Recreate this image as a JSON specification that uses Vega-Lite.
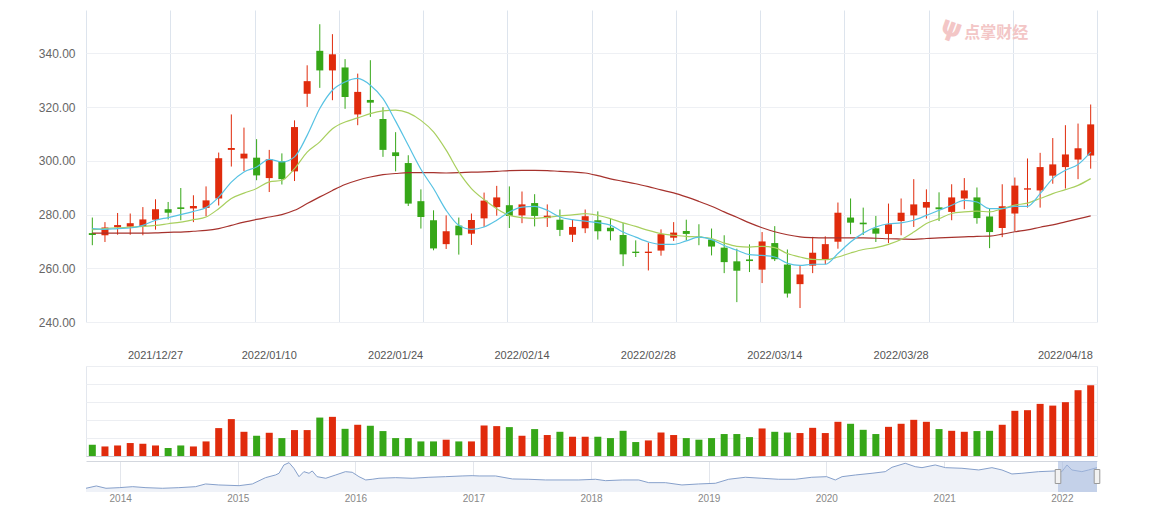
{
  "$schema": "https://vega.github.io/schema/vega-lite/v6.json",
  "padding": {"left": 38, "top": 10, "right": 10, "bottom": 4},
  "bounds": "flush",
  "spacing": 44,
  "config": {
    "font": "Liberation Sans",
    "view": {"stroke": null}
  },
  "datasets": {
    "k": [
      {"date":"2021/12/20","open":273.1,"high":278.9,"low":268.6,"close":272.4,"vol":12.5,"ma5":274.8,"ma10":274.4,"ma30":273.1},
      {"date":"2021/12/21","open":272.3,"high":277.2,"low":269.8,"close":275.2,"vol":10.6,"ma5":274.5,"ma10":274.8,"ma30":273.1},
      {"date":"2021/12/22","open":275.3,"high":280.6,"low":272.5,"close":276.1,"vol":11.7,"ma5":274.8,"ma10":275.1,"ma30":273.1},
      {"date":"2021/12/23","open":275.5,"high":280.4,"low":272.5,"close":276.8,"vol":14.4,"ma5":275.0,"ma10":275.3,"ma30":273.1},
      {"date":"2021/12/24","open":275.7,"high":282.8,"low":272.3,"close":278.2,"vol":13.6,"ma5":276.0,"ma10":275.6,"ma30":273.1},
      {"date":"2021/12/27","open":278.1,"high":285.7,"low":274.4,"close":282.0,"vol":11.7,"ma5":277.9,"ma10":276.0,"ma30":273.2},
      {"date":"2021/12/28","open":282.0,"high":284.7,"low":278.2,"close":280.7,"vol":8.9,"ma5":278.9,"ma10":276.6,"ma30":273.4},
      {"date":"2021/12/29","open":282.7,"high":289.9,"low":277.9,"close":282.1,"vol":11.7,"ma5":280.0,"ma10":277.2,"ma30":273.5},
      {"date":"2021/12/30","open":282.3,"high":287.2,"low":277.2,"close":283.2,"vol":10.6,"ma5":281.2,"ma10":278.1,"ma30":273.8},
      {"date":"2021/12/31","open":282.5,"high":290.5,"low":279.4,"close":285.3,"vol":16.2,"ma5":282.6,"ma10":279.1,"ma30":274.1},
      {"date":"2022/01/04","open":286.0,"high":303.1,"low":283.4,"close":301.0,"vol":31.0,"ma5":286.5,"ma10":282.2,"ma30":274.8},
      {"date":"2022/01/05","open":304.1,"high":317.3,"low":297.9,"close":304.8,"vol":41.0,"ma5":292.1,"ma10":286.0,"ma30":276.0},
      {"date":"2022/01/06","open":300.9,"high":312.4,"low":296.2,"close":302.7,"vol":26.9,"ma5":295.9,"ma10":288.0,"ma30":277.2},
      {"date":"2022/01/07","open":301.2,"high":308.1,"low":292.8,"close":294.6,"vol":22.5,"ma5":297.7,"ma10":289.7,"ma30":278.2},
      {"date":"2022/01/10","open":293.6,"high":304.1,"low":288.4,"close":300.6,"vol":25.8,"ma5":300.6,"ma10":292.2,"ma30":279.1},
      {"date":"2022/01/11","open":299.9,"high":302.8,"low":291.2,"close":293.2,"vol":19.9,"ma5":299.6,"ma10":292.8,"ma30":280.0},
      {"date":"2022/01/12","open":296.1,"high":315.1,"low":292.5,"close":312.6,"vol":28.8,"ma5":301.5,"ma10":297.1,"ma30":281.6},
      {"date":"2022/01/13","open":325.0,"high":335.6,"low":320.1,"close":329.7,"vol":28.8,"ma5":309.5,"ma10":303.3,"ma30":284.1},
      {"date":"2022/01/14","open":341.0,"high":350.9,"low":327.2,"close":333.7,"vol":42.7,"ma5":319.5,"ma10":307.1,"ma30":286.6},
      {"date":"2022/01/17","open":333.7,"high":347.2,"low":322.6,"close":339.7,"vol":43.5,"ma5":326.3,"ma10":312.0,"ma30":289.0},
      {"date":"2022/01/18","open":334.8,"high":337.9,"low":319.4,"close":323.8,"vol":30.2,"ma5":329.4,"ma10":314.5,"ma30":291.2},
      {"date":"2022/01/19","open":317.3,"high":332.5,"low":313.3,"close":325.7,"vol":34.7,"ma5":330.7,"ma10":316.0,"ma30":292.8},
      {"date":"2022/01/20","open":322.7,"high":337.5,"low":316.4,"close":321.7,"vol":33.6,"ma5":328.2,"ma10":317.6,"ma30":294.0},
      {"date":"2022/01/21","open":315.6,"high":320.0,"low":301.5,"close":304.1,"vol":27.7,"ma5":323.2,"ma10":318.6,"ma30":294.9},
      {"date":"2022/01/24","open":303.2,"high":310.7,"low":296.1,"close":301.8,"vol":19.9,"ma5":314.8,"ma10":318.9,"ma30":295.3},
      {"date":"2022/01/25","open":299.2,"high":302.1,"low":283.2,"close":284.1,"vol":19.9,"ma5":305.8,"ma10":317.9,"ma30":295.6},
      {"date":"2022/01/26","open":285.0,"high":289.4,"low":274.8,"close":279.1,"vol":16.2,"ma5":296.9,"ma10":315.1,"ma30":295.6},
      {"date":"2022/01/27","open":277.9,"high":281.6,"low":266.7,"close":267.4,"vol":16.2,"ma5":289.7,"ma10":310.8,"ma30":295.6},
      {"date":"2022/01/28","open":269.0,"high":279.7,"low":267.2,"close":273.8,"vol":18.1,"ma5":281.6,"ma10":304.0,"ma30":295.5},
      {"date":"2022/02/07","open":275.9,"high":278.9,"low":265.1,"close":272.3,"vol":16.2,"ma5":276.0,"ma10":295.9,"ma30":295.6},
      {"date":"2022/02/08","open":272.9,"high":280.4,"low":268.7,"close":278.0,"vol":16.2,"ma5":274.5,"ma10":289.7,"ma30":295.8},
      {"date":"2022/02/09","open":278.6,"high":288.2,"low":275.4,"close":285.2,"vol":33.9,"ma5":275.4,"ma10":285.6,"ma30":295.9},
      {"date":"2022/02/10","open":282.8,"high":290.7,"low":279.6,"close":286.4,"vol":33.2,"ma5":277.9,"ma10":282.2,"ma30":296.1},
      {"date":"2022/02/11","open":283.5,"high":290.5,"low":275.0,"close":279.5,"vol":32.1,"ma5":281.0,"ma10":279.7,"ma30":296.4},
      {"date":"2022/02/14","open":279.7,"high":288.6,"low":276.8,"close":283.8,"vol":22.5,"ma5":282.8,"ma10":278.9,"ma30":296.5},
      {"date":"2022/02/15","open":284.3,"high":287.6,"low":275.6,"close":279.5,"vol":29.9,"ma5":283.1,"ma10":278.6,"ma30":296.5},
      {"date":"2022/02/16","open":278.7,"high":283.8,"low":275.4,"close":279.6,"vol":23.3,"ma5":281.6,"ma10":279.0,"ma30":296.4},
      {"date":"2022/02/17","open":278.1,"high":281.9,"low":272.0,"close":274.3,"vol":26.9,"ma5":279.1,"ma10":279.5,"ma30":296.1},
      {"date":"2022/02/18","open":272.5,"high":278.1,"low":269.8,"close":275.4,"vol":21.4,"ma5":278.1,"ma10":279.9,"ma30":295.9},
      {"date":"2022/02/21","open":274.9,"high":281.9,"low":273.1,"close":279.4,"vol":21.4,"ma5":277.6,"ma10":280.4,"ma30":295.5},
      {"date":"2022/02/22","open":277.9,"high":281.2,"low":270.7,"close":273.8,"vol":21.4,"ma5":277.0,"ma10":279.7,"ma30":294.5},
      {"date":"2022/02/23","open":275.1,"high":278.7,"low":270.4,"close":273.8,"vol":19.9,"ma5":276.1,"ma10":278.5,"ma30":293.3},
      {"date":"2022/02/24","open":272.4,"high":276.9,"low":260.8,"close":265.2,"vol":28.0,"ma5":273.5,"ma10":276.9,"ma30":292.4},
      {"date":"2022/02/25","open":266.2,"high":270.4,"low":264.2,"close":265.7,"vol":15.5,"ma5":271.6,"ma10":275.6,"ma30":291.5},
      {"date":"2022/02/28","open":265.7,"high":269.6,"low":259.2,"close":266.2,"vol":17.3,"ma5":269.8,"ma10":274.1,"ma30":290.4},
      {"date":"2022/03/01","open":266.6,"high":274.5,"low":264.7,"close":272.7,"vol":26.1,"ma5":268.9,"ma10":272.9,"ma30":289.2},
      {"date":"2022/03/02","open":271.4,"high":277.2,"low":270.2,"close":273.3,"vol":23.3,"ma5":268.9,"ma10":272.3,"ma30":288.1},
      {"date":"2022/03/03","open":273.9,"high":278.1,"low":270.4,"close":272.8,"vol":19.9,"ma5":270.2,"ma10":271.9,"ma30":286.6},
      {"date":"2022/03/04","open":271.8,"high":276.4,"low":268.6,"close":271.4,"vol":18.1,"ma5":271.6,"ma10":271.6,"ma30":284.9},
      {"date":"2022/03/07","open":270.7,"high":274.8,"low":264.8,"close":268.1,"vol":19.9,"ma5":270.7,"ma10":271.1,"ma30":283.1},
      {"date":"2022/03/08","open":267.7,"high":272.3,"low":258.2,"close":262.3,"vol":24.4,"ma5":268.5,"ma10":269.4,"ma30":281.0},
      {"date":"2022/03/09","open":262.6,"high":267.3,"low":247.4,"close":259.1,"vol":24.4,"ma5":266.7,"ma10":268.2,"ma30":279.0},
      {"date":"2022/03/10","open":263.3,"high":268.9,"low":258.6,"close":262.7,"vol":21.0,"ma5":265.1,"ma10":267.9,"ma30":276.9},
      {"date":"2022/03/11","open":259.5,"high":273.5,"low":254.5,"close":270.0,"vol":30.6,"ma5":264.8,"ma10":268.2,"ma30":275.1},
      {"date":"2022/03/14","open":269.4,"high":275.7,"low":262.7,"close":263.4,"vol":26.9,"ma5":264.2,"ma10":267.7,"ma30":273.6},
      {"date":"2022/03/15","open":261.4,"high":267.0,"low":249.1,"close":250.6,"vol":26.1,"ma5":261.9,"ma10":265.5,"ma30":272.5},
      {"date":"2022/03/16","open":254.1,"high":261.1,"low":245.2,"close":257.7,"vol":25.5,"ma5":261.1,"ma10":264.2,"ma30":271.7},
      {"date":"2022/03/17","open":261.0,"high":271.7,"low":258.2,"close":265.8,"vol":31.3,"ma5":261.5,"ma10":263.3,"ma30":271.4},
      {"date":"2022/03/18","open":263.3,"high":271.9,"low":261.5,"close":269.0,"vol":25.5,"ma5":261.5,"ma10":263.2,"ma30":271.3},
      {"date":"2022/03/21","open":269.9,"high":284.5,"low":267.3,"close":280.7,"vol":38.0,"ma5":265.5,"ma10":264.2,"ma30":271.3},
      {"date":"2022/03/22","open":278.9,"high":286.0,"low":272.7,"close":277.0,"vol":35.8,"ma5":269.8,"ma10":265.7,"ma30":271.3},
      {"date":"2022/03/23","open":277.0,"high":282.6,"low":272.4,"close":276.4,"vol":29.1,"ma5":273.1,"ma10":267.0,"ma30":271.3},
      {"date":"2022/03/24","open":274.9,"high":279.5,"low":269.8,"close":272.9,"vol":24.4,"ma5":275.4,"ma10":267.7,"ma30":271.2},
      {"date":"2022/03/25","open":272.8,"high":284.1,"low":269.4,"close":276.4,"vol":32.4,"ma5":276.6,"ma10":268.9,"ma30":271.0},
      {"date":"2022/03/28","open":277.6,"high":286.0,"low":272.3,"close":280.7,"vol":35.8,"ma5":276.9,"ma10":270.7,"ma30":270.9},
      {"date":"2022/03/29","open":279.7,"high":293.2,"low":275.4,"close":283.8,"vol":40.2,"ma5":277.9,"ma10":273.5,"ma30":270.8},
      {"date":"2022/03/30","open":282.6,"high":289.4,"low":278.5,"close":284.7,"vol":38.0,"ma5":279.7,"ma10":276.7,"ma30":271.1},
      {"date":"2022/03/31","open":282.7,"high":288.3,"low":277.6,"close":282.0,"vol":29.9,"ma5":281.6,"ma10":278.5,"ma30":271.3},
      {"date":"2022/04/01","open":281.0,"high":291.3,"low":277.9,"close":286.4,"vol":28.0,"ma5":283.5,"ma10":280.4,"ma30":271.5},
      {"date":"2022/04/06","open":286.0,"high":293.6,"low":282.0,"close":289.0,"vol":26.9,"ma5":285.3,"ma10":281.0,"ma30":271.7},
      {"date":"2022/04/07","open":286.4,"high":290.1,"low":276.6,"close":278.7,"vol":27.7,"ma5":284.7,"ma10":281.3,"ma30":271.9},
      {"date":"2022/04/08","open":279.3,"high":282.2,"low":267.5,"close":273.5,"vol":28.0,"ma5":282.2,"ma10":281.0,"ma30":272.0},
      {"date":"2022/04/11","open":275.0,"high":291.3,"low":271.6,"close":283.1,"vol":34.7,"ma5":282.2,"ma10":282.2,"ma30":272.7},
      {"date":"2022/04/12","open":280.4,"high":293.8,"low":273.8,"close":290.8,"vol":50.2,"ma5":283.1,"ma10":283.5,"ma30":273.6},
      {"date":"2022/04/13","open":289.3,"high":300.9,"low":282.6,"close":289.8,"vol":50.9,"ma5":283.1,"ma10":284.3,"ma30":274.3},
      {"date":"2022/04/14","open":289.0,"high":303.0,"low":282.6,"close":297.7,"vol":57.9,"ma5":287.8,"ma10":286.0,"ma30":275.3},
      {"date":"2022/04/15","open":294.5,"high":308.5,"low":291.5,"close":298.7,"vol":56.0,"ma5":293.4,"ma10":287.8,"ma30":276.2},
      {"date":"2022/04/18","open":297.7,"high":313.3,"low":289.7,"close":302.4,"vol":59.8,"ma5":296.5,"ma10":289.3,"ma30":277.3},
      {"date":"2022/04/19","open":300.5,"high":313.9,"low":293.2,"close":304.7,"vol":73.1,"ma5":298.7,"ma10":290.9,"ma30":278.4},
      {"date":"2022/04/20","open":302.0,"high":321.0,"low":297.1,"close":313.6,"vol":78.6,"ma5":303.3,"ma10":293.4,"ma30":279.5}
    ],
    "nav": [
      {"date":"2013-09-17","price":70.8},{"date":"2013-10-19","price":98.4},{"date":"2013-11-18","price":70.8},
      {"date":"2013-12-29","price":78},{"date":"2014-02-09","price":90},{"date":"2014-03-22","price":78},
      {"date":"2014-05-12","price":70.8},{"date":"2014-07-02","price":78},{"date":"2014-08-23","price":90},
      {"date":"2014-09-23","price":122.4},{"date":"2014-11-03","price":110.4},{"date":"2015-01-05","price":102},
      {"date":"2015-02-15","price":122.4},{"date":"2015-03-28","price":198},{"date":"2015-04-28","price":230.4},
      {"date":"2015-05-09","price":250.8},{"date":"2015-05-24","price":350.4},{"date":"2015-06-09","price":378},
      {"date":"2015-06-24","price":310.8},{"date":"2015-07-10","price":210},{"date":"2015-07-25","price":270},
      {"date":"2015-08-10","price":250.8},{"date":"2015-08-20","price":278.4},{"date":"2015-09-04","price":210},
      {"date":"2015-10-01","price":190.8},{"date":"2015-11-01","price":230.4},{"date":"2015-12-01","price":270},
      {"date":"2015-12-22","price":262.8},{"date":"2016-01-12","price":210},{"date":"2016-02-02","price":170.4},
      {"date":"2016-02-22","price":178.8},{"date":"2016-03-14","price":190.8},{"date":"2016-05-05","price":198},
      {"date":"2016-06-25","price":190.8},{"date":"2016-08-16","price":202.8},{"date":"2016-10-07","price":210},
      {"date":"2016-11-27","price":218.4},{"date":"2016-12-28","price":222},{"date":"2017-01-19","price":218.4},
      {"date":"2017-03-11","price":218.4},{"date":"2017-05-02","price":182.4},{"date":"2017-06-22","price":178.8},
      {"date":"2017-08-13","price":170.4},{"date":"2017-10-03","price":170.4},{"date":"2017-11-24","price":170.4},
      {"date":"2018-01-15","price":178.8},{"date":"2018-02-15","price":162},{"date":"2018-04-08","price":170.4},
      {"date":"2018-05-29","price":170.4},{"date":"2018-06-29","price":138},{"date":"2018-08-20","price":138},
      {"date":"2018-10-10","price":110.4},{"date":"2018-12-01","price":122.4},{"date":"2019-01-22","price":130.8},
      {"date":"2019-03-04","price":178.8},{"date":"2019-04-25","price":202.8},{"date":"2019-06-15","price":190.8},
      {"date":"2019-08-06","price":178.8},{"date":"2019-09-27","price":178.8},{"date":"2019-11-17","price":202.8},
      {"date":"2020-01-02","price":210},{"date":"2020-01-29","price":170.4},{"date":"2020-02-19","price":210},
      {"date":"2020-04-01","price":230.4},{"date":"2020-05-22","price":250.8},{"date":"2020-07-02","price":270},
      {"date":"2020-07-23","price":322.8},{"date":"2020-09-02","price":370.8},{"date":"2020-10-03","price":330},
      {"date":"2020-10-24","price":318},{"date":"2020-12-04","price":350.4},{"date":"2021-01-05","price":318},
      {"date":"2021-02-25","price":310.8},{"date":"2021-04-18","price":290.4},{"date":"2021-05-29","price":318},
      {"date":"2021-06-29","price":290.4},{"date":"2021-07-30","price":242.4},{"date":"2021-08-30","price":250.8},
      {"date":"2021-10-21","price":270},{"date":"2021-12-11","price":278.4},{"date":"2022-01-01","price":270},
      {"date":"2022-01-17","price":350.4},{"date":"2022-02-01","price":290.4},{"date":"2022-03-04","price":270},
      {"date":"2022-03-25","price":290.4},{"date":"2022-04-20","price":318}
    ]
  },
  "resolve": {"scale": {"x": "independent", "y": "independent"}},
  "vconcat": [
    {
      "width": 1011,
      "height": 312,
      "view": {"stroke": null},
      "resolve": {"scale": {"x": "independent"}, "axis": {"x": "independent"}},
      "layer": [
        {
          "data": {"values": [{"g": 0}]},
          "mark": {"type": "rule", "opacity": 0},
          "encoding": {
            "x": {"field": "g", "type": "quantitative",
                  "scale": {"domain": [0, 12], "nice": false, "zero": false},
                  "axis": {"values": [0,1,2,3,4,5,6,7,8,9,10,11,12], "grid": true, "gridColor": "#dde4ed", "gridWidth": 1,
                           "labels": false, "ticks": false, "domain": false, "title": null}}
          }
        },
        {
          "data": {"name": "k"},
          "layer": [
            {
              "mark": {"type": "rule", "strokeWidth": 1},
              "encoding": {
                "x": {"field": "date", "type": "ordinal", "scale": {"paddingInner": 0, "paddingOuter": 0}, "axis": null},
                "y": {"field": "low", "type": "quantitative",
                      "scale": {"domain": [240, 356.2], "nice": false, "zero": false},
                      "axis": {"title": null, "values": [240, 260, 280, 300, 320, 340], "format": ".2f",
                               "ticks": false, "tickSize": 0, "domain": false, "labelPadding": 11,
                               "labelFontSize": 12, "labelColor": "#666666", "gridColor": "#eef0f4"}},
                "y2": {"field": "high"},
                "color": {"condition": {"test": "datum.close > datum.open", "value": "#e02b0c"}, "value": "#36a718"}
              }
            },
            {
              "mark": {"type": "bar", "width": 7},
              "encoding": {
                "x": {"field": "date", "type": "ordinal", "scale": {"paddingInner": 0, "paddingOuter": 0}, "axis": null},
                "y": {"field": "open", "type": "quantitative", "scale": {"domain": [240, 356.2], "nice": false, "zero": false}},
                "y2": {"field": "close"},
                "color": {"condition": {"test": "datum.close > datum.open", "value": "#e02b0c"}, "value": "#36a718"}
              }
            },
            {
              "mark": {"type": "line", "interpolate": "monotone", "strokeWidth": 1.2, "color": "#a6322d"},
              "encoding": {
                "x": {"field": "date", "type": "ordinal", "scale": {"paddingInner": 0, "paddingOuter": 0}, "axis": null},
                "y": {"field": "ma30", "type": "quantitative", "scale": {"domain": [240, 356.2], "nice": false, "zero": false}}
              }
            },
            {
              "mark": {"type": "line", "interpolate": "monotone", "strokeWidth": 1.2, "color": "#a8cf5e"},
              "encoding": {
                "x": {"field": "date", "type": "ordinal", "scale": {"paddingInner": 0, "paddingOuter": 0}, "axis": null},
                "y": {"field": "ma10", "type": "quantitative", "scale": {"domain": [240, 356.2], "nice": false, "zero": false}}
              }
            },
            {
              "mark": {"type": "line", "interpolate": "monotone", "strokeWidth": 1.2, "color": "#57c2e3"},
              "encoding": {
                "x": {"field": "date", "type": "ordinal", "scale": {"paddingInner": 0, "paddingOuter": 0}, "axis": null},
                "y": {"field": "ma5", "type": "quantitative", "scale": {"domain": [240, 356.2], "nice": false, "zero": false}}
              }
            },
            {
              "data": {"values": [{"t": "点掌财经"}]},
              "mark": {"type": "text", "font": "Noto Sans CJK SC", "fontSize": 16, "fontWeight": "bold",
                       "color": "#f3c6c6", "align": "left", "baseline": "middle"},
              "encoding": {
                "x": {"datum": "2022/04/06", "type": "ordinal", "scale": {"paddingInner": 0, "paddingOuter": 0}, "axis": null},
                "y": {"datum": 347.8, "type": "quantitative", "scale": {"domain": [240, 356.2], "nice": false, "zero": false}},
                "text": {"field": "t"}
              }
            },
            {
              "data": {"values": [{"t": "ψ"}]},
              "mark": {"type": "text", "font": "DejaVu Sans", "fontSize": 26, "fontWeight": "bold",
                       "color": "#f3c6c6", "align": "center", "baseline": "middle", "angle": 20},
              "encoding": {
                "x": {"datum": "2022/04/01", "type": "ordinal", "scale": {"paddingInner": 0, "paddingOuter": 0}, "axis": null},
                "y": {"datum": 349.5, "type": "quantitative", "scale": {"domain": [240, 356.2], "nice": false, "zero": false}},
                "text": {"field": "t"}
              }
            }
          ]
        }
      ]
    },
    {
      "bounds": "flush",
      "spacing": 5,
      "resolve": {"scale": {"x": "independent", "y": "independent"}},
      "vconcat": [
        {
          "width": 1011,
          "height": 90,
          "view": {"stroke": "#e3e7ee"},
          "data": {"name": "k"},
          "mark": {"type": "bar", "width": 7},
          "encoding": {
            "x": {"field": "date", "type": "ordinal", "scale": {"paddingInner": 0, "paddingOuter": 0},
                  "axis": {"orient": "top", "title": null, "ticks": false, "domain": false, "grid": false,
                           "labelAngle": 0, "labelOverlap": false, "labelFlush": false, "labelPadding": 6,
                           "labelFontSize": 11, "labelColor": "#555555",
                           "labelExpr": "indexof(['2021/12/27','2022/01/10','2022/01/24','2022/02/14','2022/02/28','2022/03/14','2022/03/28','2022/04/18'], datum.value) >= 0 ? datum.value : ''"}},
            "y": {"field": "vol", "type": "quantitative", "scale": {"domain": [0, 100], "nice": false},
                  "axis": {"title": null, "labels": false, "ticks": false, "domain": false,
                           "values": [0, 20, 40, 60, 80, 100],
                           "gridColor": {"condition": {"test": "datum.value === 0", "value": "#c9ccd2"}, "value": "#eceef2"}}},
            "color": {"condition": {"test": "datum.close > datum.open", "value": "#e02b0c"}, "value": "#36a718"}
          }
        },
        {
          "width": 1011,
          "height": 31,
          "layer": [
            {
              "data": {"name": "nav"},
              "mark": {"type": "area", "color": "#eff2f8"},
              "encoding": {
                "x": {"field": "date", "type": "temporal",
                      "scale": {"domain": ["2013-09-17", "2022-04-20"]},
                      "axis": {"title": null, "format": "%Y", "tickCount": {"interval": "year", "step": 1},
                               "grid": true, "gridColor": "#e3e6ec", "ticks": false, "domain": false,
                               "labelPadding": 1, "labelFontSize": 10, "labelColor": "#888888", "labelFlush": false}},
                "y": {"field": "price", "type": "quantitative", "scale": {"domain": [26, 398], "nice": false, "zero": false},
                      "axis": {"title": null, "labels": false, "ticks": false, "domain": false, "values": [398], "gridColor": "#d3d7de"}},
                "y2": {"datum": 26}
              }
            },
            {
              "data": {"name": "nav"},
              "mark": {"type": "line", "color": "#86a0cb", "strokeWidth": 1},
              "encoding": {
                "x": {"field": "date", "type": "temporal"},
                "y": {"field": "price", "type": "quantitative"}
              }
            },
            {
              "data": {"values": [{"from": "2021-12-20", "to": "2022-04-20"}]},
              "mark": {"type": "rect", "color": "#a6badf", "opacity": 0.6},
              "encoding": {
                "x": {"field": "from", "type": "temporal"},
                "x2": {"field": "to"}
              }
            },
            {
              "data": {"values": [{"d": "2021-12-20"}, {"d": "2022-04-20"}]},
              "mark": {"type": "point", "shape": "M-0.4,-1H0.4V1H-0.4Z", "size": 196, "filled": true,
                       "fill": "#f2f2f2", "stroke": "#9a9a9a", "strokeWidth": 1, "opacity": 1},
              "encoding": {
                "x": {"field": "d", "type": "temporal"},
                "y": {"datum": 212, "type": "quantitative"}
              }
            }
          ]
        }
      ]
    }
  ]
}
